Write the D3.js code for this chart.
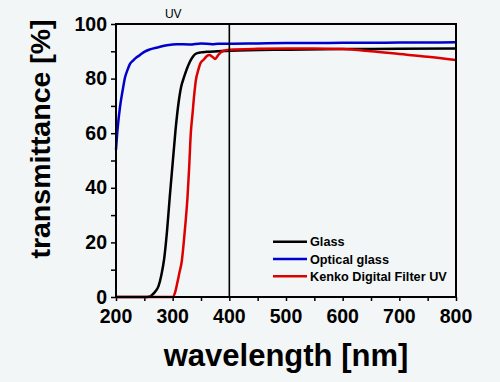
<!DOCTYPE html>
<html><head><meta charset="utf-8">
<script src="https://cdn.jsdelivr.net/npm/d3@7"></script>
<style>html,body{margin:0;padding:0;background:#f2f6f6;}svg{display:block;}</style>
</head><body>
<script>
// ---- data ----
const opticalWl  = [200,203,207,212,216,220,225,230,235,242,250,260,275,290,307,330,350,370,380,400,450,500,550,600,650,700,750,800];
const opticalVal = [54,62,69.5,76,80.5,83,85.5,86.6,87.6,88.6,89.8,90.7,91.5,92.2,92.6,92.5,92.9,92.6,92.8,92.8,92.9,93.0,93.0,93.1,93.1,93.2,93.2,93.3];

const glassWl  = [200,250,260,265,270,275,280,285,290,295,300,305,310,315,320,325,330,335,340,350,360,380,400,500,600,700,800];
const glassVal = [0,0,0.2,1,2.2,4,8,14,24,37,49,61,70.5,77,80.5,83.5,86,87.8,89,89.6,89.8,90,90.2,90.6,90.8,90.9,91];

const kenkoWl  = [200,300,304,308,312,316,320,323,326,329,332,335,338,341,345,349,355,360,365,370,375,380,385,390,400,450,500,550,600,650,700,750,800];
const kenkoVal = [0,0,1.5,5,9,13,21,28,36,47,60,67,74,79.5,83,85.6,87,88.2,88.6,88,87.2,88.5,89.6,90.2,90.6,90.9,91,91,90.8,90,89,88,86.8];

const xTicks = [200,300,400,500,600,700,800];
const yTicks = [0,20,40,60,80,100];
const seriesNames  = ["Glass","Optical glass","Kenko Digital Filter UV"];
const seriesColors = ["#000000","#0000cc","#dd0000"];

// ---- chart ----
const W=500,H=382;
const svg=d3.select("body").append("svg").attr("width",W).attr("height",H);
svg.append("rect").attr("width",W).attr("height",H).attr("fill","#f2f6f6");
const x=d3.scaleLinear().domain([200,800]).range([116,456]);
const y=d3.scaleLinear().domain([0,100]).range([297,24]);
const font="Liberation Sans, Arial, sans-serif";

// ticks
const xAxis=d3.axisBottom(x).tickValues(d3.range(200,801,50)).tickSize(4).tickFormat("");
const gx=svg.append("g").attr("transform",`translate(0,${y(0)})`).call(xAxis);
const yAxis=d3.axisLeft(y).tickValues(d3.range(0,101,10)).tickSize(5).tickFormat("");
const gy=svg.append("g").attr("transform",`translate(${x(200)},0)`).call(yAxis);
[gx,gy].forEach(g=>{g.select(".domain").remove();g.selectAll("line").attr("stroke","#000").attr("stroke-width",1.5);});

// tick labels
svg.append("g").selectAll("text").data(xTicks).join("text")
  .attr("x",d=>x(d)).attr("y",323).attr("text-anchor","middle")
  .attr("font-family",font).attr("font-weight","bold").attr("font-size",19.5).text(d=>d);
svg.append("g").selectAll("text").data(yTicks).join("text")
  .attr("x",107).attr("y",d=>y(d)).attr("dy","0.34em").attr("text-anchor","end")
  .attr("font-family",font).attr("font-weight","bold").attr("font-size",19.5).text(d=>d);

// curves
const line=d3.line().x(d=>x(d[0])).y(d=>y(d[1])).curve(d3.curveMonotoneX);
svg.append("path").datum(d3.zip(glassWl,glassVal)).attr("d",line).attr("fill","none").attr("stroke",seriesColors[0]).attr("stroke-width",2.5);
svg.append("path").datum(d3.zip(opticalWl,opticalVal)).attr("d",line).attr("fill","none").attr("stroke",seriesColors[1]).attr("stroke-width",2.5);
svg.append("path").datum(d3.zip(kenkoWl,kenkoVal)).attr("d",line).attr("fill","none").attr("stroke",seriesColors[2]).attr("stroke-width",2.5);

// UV boundary line
svg.append("line").attr("x1",x(400)).attr("x2",x(400)).attr("y1",y(100)).attr("y2",y(0)).attr("stroke","#000").attr("stroke-width",1.6);
svg.append("text").attr("x",x(301)).attr("y",18).attr("text-anchor","middle").attr("font-family",font).attr("font-size",12).text("UV");

// frame
svg.append("rect").attr("x",x(200)).attr("y",y(100)).attr("width",x(800)-x(200)).attr("height",y(0)-y(100))
  .attr("fill","none").attr("stroke","#000").attr("stroke-width",2);

// legend
const lg=svg.append("g");
seriesNames.forEach((n,i)=>{
  const yy=241.7+i*17.3;
  lg.append("line").attr("x1",273).attr("x2",307).attr("y1",yy).attr("y2",yy).attr("stroke",seriesColors[i]).attr("stroke-width",2.5);
  lg.append("text").attr("x",310).attr("y",yy).attr("dy","0.36em").attr("font-family",font).attr("font-weight","bold").attr("font-size",12.7).text(n);
});

// axis titles
svg.append("text").attr("x",286).attr("y",366).attr("text-anchor","middle").attr("font-family",font).attr("font-weight","bold").attr("font-size",31).text("wavelength [nm]");
svg.append("text").attr("transform","translate(50,139) rotate(-90)").attr("text-anchor","middle").attr("font-family",font).attr("font-weight","bold").attr("font-size",28.5).text("transmittance [%]");
</script>
</body></html>
